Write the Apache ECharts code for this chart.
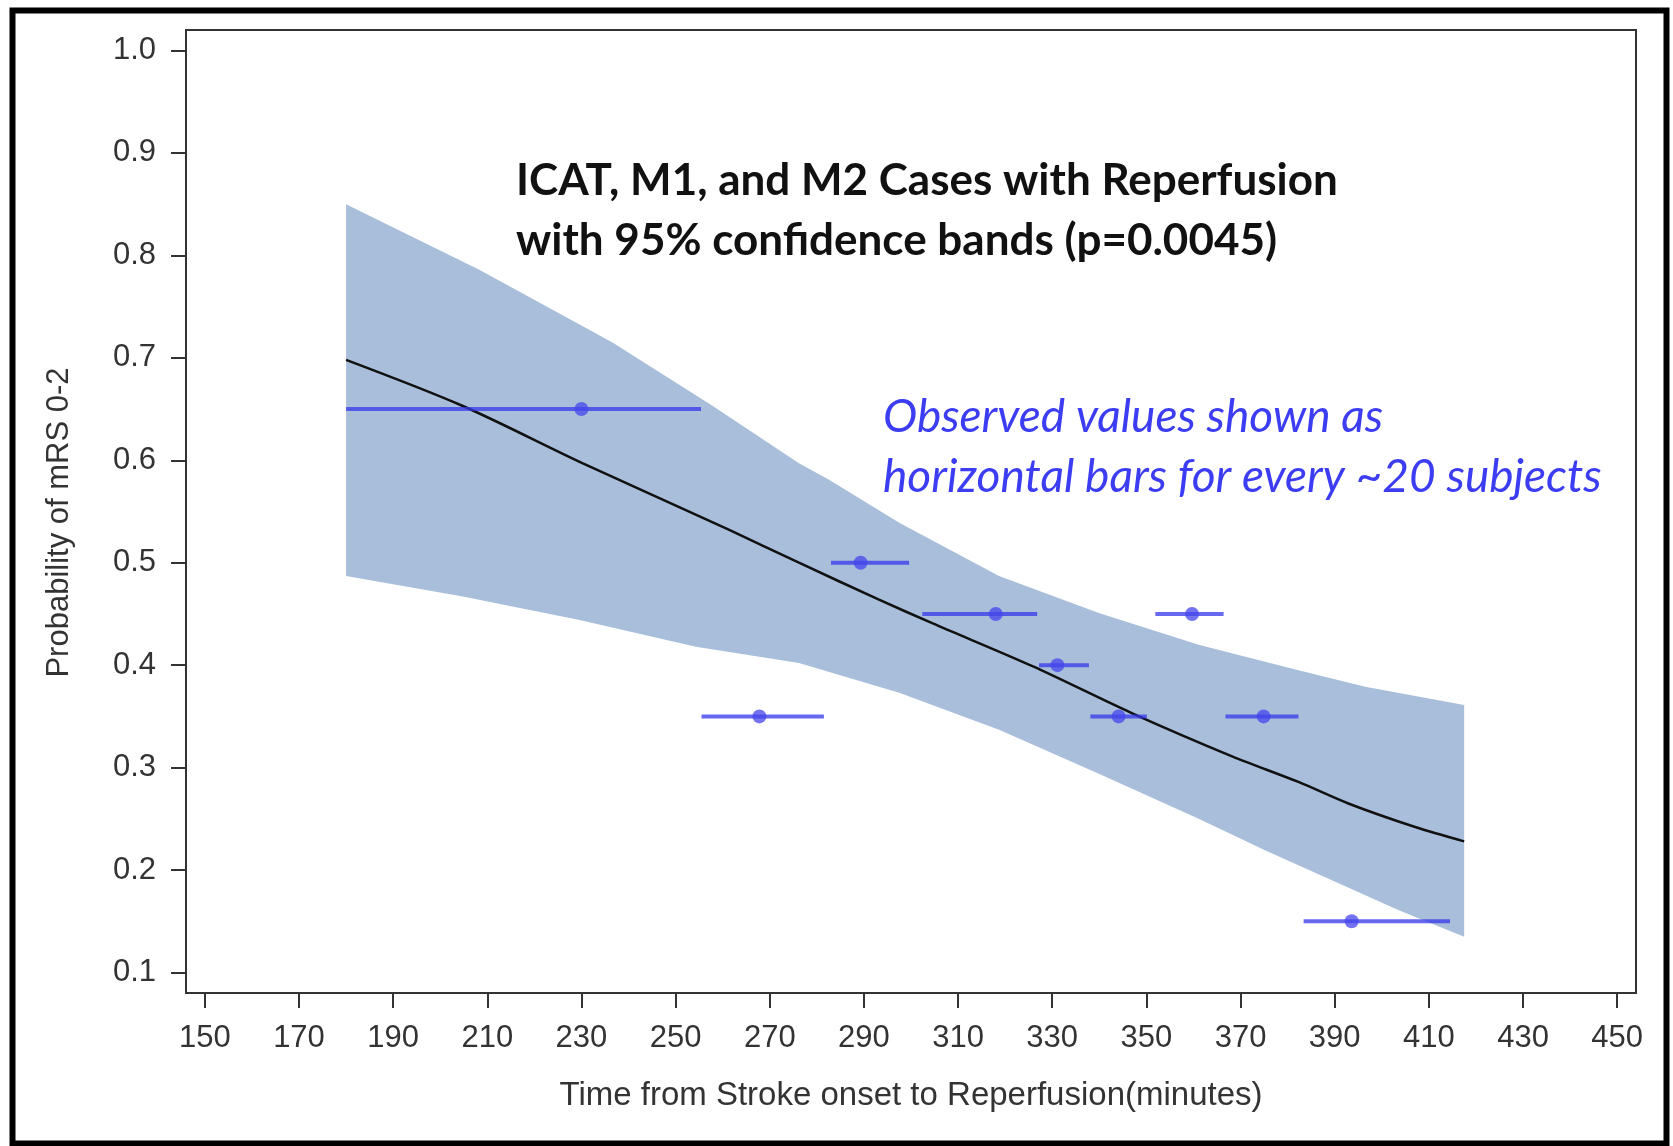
<!DOCTYPE html>
<html>
<head>
<meta charset="utf-8">
<script src="https://cdn.jsdelivr.net/npm/echarts@6/dist/echarts.min.js"></script>
<style>
  html, body { margin: 0; padding: 0; background: #fff; }
  #chart { width: 1673px; height: 1146px; }
</style>
</head>
<body>
<div id="chart"></div>
<script>
// ---- Data ----
const xTicks = [150, 170, 190, 210, 230, 250, 270, 290, 310, 330, 350, 370, 390, 410, 430, 450];
const yTicks = [0.1, 0.2, 0.3, 0.4, 0.5, 0.6, 0.7, 0.8, 0.9, 1.0];

// fitted probability curve
const curveX = [180, 204.8, 230.3, 261.4, 276.2, 293.2, 304.5, 325.8, 347.0, 368.2, 382.3, 392.9, 407.1, 417.5];
const curveY = [0.698, 0.653, 0.597, 0.532, 0.500, 0.464, 0.441, 0.399, 0.353, 0.311, 0.286, 0.265, 0.242, 0.228];

// 95% confidence band edges
const upperX = [180, 208.3, 236.6, 257.9, 276.2, 282.6, 297.5, 318.7, 339.9, 361.1, 382.3, 396.5, 417.5];
const upperY = [0.850, 0.786, 0.715, 0.653, 0.597, 0.581, 0.539, 0.487, 0.451, 0.420, 0.395, 0.379, 0.361];
const lowerX = [180, 204.8, 229.6, 254.3, 276.2, 297.5, 318.7, 339.9, 361.1, 375.3, 389.4, 403.5, 417.5];
const lowerY = [0.487, 0.467, 0.444, 0.418, 0.402, 0.373, 0.337, 0.294, 0.250, 0.219, 0.190, 0.161, 0.135];

// observed values (horizontal bars)
const obsY    = [0.65, 0.35, 0.50, 0.45, 0.40, 0.35, 0.45, 0.35, 0.15];
const obsLow  = [180, 255.5, 283, 302.4, 327.2, 338.1, 351.9, 366.8, 383.4];
const obsMid  = [230, 267.8, 289.3, 318, 331.1, 344.1, 359.7, 374.9, 393.6];
const obsHigh = [255.4, 281.5, 299.6, 326.8, 337.8, 350.1, 366.4, 382.3, 414.5];

const titleLines = ['ICAT, M1, and M2 Cases with Reperfusion', 'with 95% confidence bands (p=0.0045)'];
const noteLines = ['Observed values shown as', 'horizontal bars for every ~20 subjects'];

// ---- Chart ----
const chart = echarts.init(document.getElementById('chart'), null, { renderer: 'canvas' });
const axisFont = "'Liberation Sans', Arial, sans-serif";

const option = {
  animation: false,
  backgroundColor: '#ffffff',
  title: [
    {
      text: titleLines.join('\n'),
      left: 516, top: 151, padding: 0,
      textStyle: { fontFamily: 'Lato, sans-serif', fontWeight: 'bold', fontSize: 44, lineHeight: 60, color: '#111' }
    },
    {
      text: noteLines.join('\n'),
      left: 883, top: 387, padding: 0,
      textStyle: { fontFamily: 'Lato, sans-serif', fontStyle: 'italic', fontWeight: 'normal', fontSize: 46, lineHeight: 60, color: '#3c3cf2' }
    }
  ],
  grid: {
    left: 186, top: 30, width: 1450, height: 963,
    show: true, borderColor: '#333', borderWidth: 2, backgroundColor: 'transparent'
  },
  xAxis: {
    type: 'value', min: 146, max: 454,
    name: 'Time from Stroke onset to Reperfusion(minutes)',
    nameLocation: 'middle', nameGap: 86,
    nameTextStyle: { fontFamily: axisFont, fontSize: 33, color: '#333' },
    axisLine: { show: true, lineStyle: { color: '#333', width: 2 } },
    axisTick: { show: true, customValues: xTicks, length: 15, lineStyle: { color: '#333', width: 2 } },
    axisLabel: { customValues: xTicks, fontFamily: axisFont, fontSize: 31, color: '#333', margin: 30 },
    splitLine: { show: false }
  },
  yAxis: {
    type: 'value', min: 0.08, max: 1.02,
    name: 'Probability of mRS 0-2',
    nameLocation: 'middle', nameGap: 111, nameRotate: 90,
    nameTextStyle: { fontFamily: axisFont, fontSize: 31, color: '#333', padding: [0, 22, 0, 0] },
    axisLine: { show: true, lineStyle: { color: '#333', width: 2 } },
    axisTick: { show: true, customValues: yTicks, length: 15, lineStyle: { color: '#333', width: 2 } },
    axisLabel: {
      customValues: yTicks, fontFamily: axisFont, fontSize: 31, color: '#333', margin: 30,
      formatter: v => v.toFixed(1)
    },
    splitLine: { show: false }
  },
  graphic: [
    {
      type: 'rect', z: 100, silent: true,
      shape: { x: 12.5, y: 10.5, width: 1654, height: 1133 },
      style: { fill: 'none', stroke: '#000', lineWidth: 6 }
    }
  ],
  series: [
    {
      name: 'band',
      type: 'custom',
      z: 1,
      clip: true,
      data: upperX.map((x, i) => [x, upperY[i]]),
      encode: { x: 0, y: 1 },
      renderItem: function (params, api) {
        if (params.dataIndex !== 0) return null;
        const pts = [];
        for (let i = 0; i < upperX.length; i++) pts.push(api.coord([upperX[i], upperY[i]]));
        for (let i = lowerX.length - 1; i >= 0; i--) pts.push(api.coord([lowerX[i], lowerY[i]]));
        return { type: 'polygon', shape: { points: pts }, style: { fill: '#a9bedb' } };
      }
    },
    {
      name: 'fit',
      type: 'line',
      z: 3,
      data: curveX.map((x, i) => [x, curveY[i]]),
      showSymbol: false,
      smooth: 0.3,
      lineStyle: { color: '#111', width: 2.5 }
    },
    {
      name: 'observed',
      type: 'custom',
      z: 4,
      data: obsY.map((y, i) => [obsLow[i], obsHigh[i], obsMid[i], y]),
      encode: { x: [0, 1, 2], y: 3 },
      renderItem: function (params, api) {
        const y = api.value(3);
        const a = api.coord([api.value(0), y]);
        const b = api.coord([api.value(1), y]);
        const c = api.coord([api.value(2), y]);
        return {
          type: 'group',
          children: [
            { type: 'line', shape: { x1: a[0], y1: a[1], x2: b[0], y2: b[1] },
              style: { stroke: 'rgba(55,55,235,0.75)', lineWidth: 4 } },
            { type: 'circle', shape: { cx: c[0], cy: c[1], r: 7 },
              style: { fill: 'rgba(70,70,235,0.75)' } }
          ]
        };
      }
    }
  ]
};
chart.setOption(option);
</script>
</body>
</html>
